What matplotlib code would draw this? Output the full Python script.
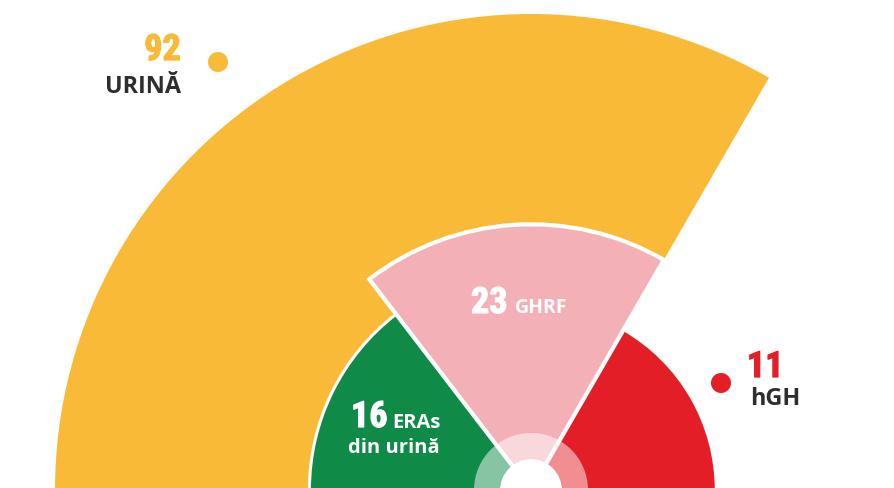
import numpy as np
import matplotlib
matplotlib.use("Agg")
import matplotlib.pyplot as plt
from matplotlib.patches import Wedge, Circle
from matplotlib import font_manager as fm
import matplotlib.patheffects as pe

# ---------------- data ----------------
labels = ["URINĂ", "GHRF", "ERAs\ndin urină", "hGH"]
values = [92, 23, 16, 11]
colors = ["#F9BA37", "#F3B1B7", "#108A47", "#E31E26"]

# ---------------- layout / style ----------------
W, H, DPI = 895, 488, 100
CX, CY = 531, 490                      # centre of the half-disc (pixels, y down)
SCALE = 55.4                           # radius ∝ sqrt(value)
R_MAX = 476                            # outer sector is capped to fit the page
ANGLES = [(60, 180), (60, 127.5), (127.5, 180), (0, 60)]
HOLE_R, RING_R = 31, 57
DARK = "#2E2E2E"


def radius(v):
    return min(SCALE * np.sqrt(v), R_MAX)


# pick a condensed bold face for the big numbers if one is installed
def pick_condensed():
    for f in fm.fontManager.ttflist:
        if f.name in ("Roboto Condensed", "Open Sans Condensed", "Liberation Sans Narrow"):
            return dict(family=f.name, fontstretch="normal")
    for f in fm.fontManager.ttflist:
        if f.name == "DejaVu Sans" and "ondensed" in f.fname:
            return dict(family="DejaVu Sans", fontstretch="condensed")
    return dict(family="DejaVu Sans", fontstretch="normal")


NUMF = pick_condensed()
LABF = dict(family="Open Sans")

fig = plt.figure(figsize=(W / DPI, H / DPI), dpi=DPI)
ax = fig.add_axes([0, 0, 1, 1])
ax.set_xlim(-CX, W - CX)
ax.set_ylim(CY - H, CY)
ax.set_aspect("auto")
ax.axis("off")

order = [0, 3, 2, 1]  # yellow, red, green, pink (pink on top)
edge_w = {0: 0, 3: 0, 2: 2.2, 1: 3.0}
for i in order:
    t1, t2 = ANGLES[i]
    w = Wedge((0, 0), radius(values[i]), t1, t2, facecolor=colors[i],
              edgecolor="white", linewidth=edge_w[i], joinstyle="miter",
              antialiased=True, zorder=2 + order.index(i))
    ax.add_patch(w)

# translucent inner ring and white hole
ax.add_patch(Wedge((0, 0), RING_R, 0, 180, width=RING_R - HOLE_R,
                   facecolor="white", alpha=0.5, edgecolor="none", zorder=10))
ax.add_patch(Circle((0, 0), HOLE_R, facecolor="white", edgecolor="none", zorder=11))


def P(x, y):
    return x - CX, CY - y


def heavy(c):
    return [pe.Stroke(linewidth=0.9, foreground=c), pe.Normal()]


# --- labels ---
num_kw = dict(fontsize=26, fontweight="bold", va="baseline", zorder=20, **NUMF)
lab_kw = dict(fontweight="bold", va="baseline", zorder=20, **LABF)

# URINĂ (outside, left)
ax.text(*P(181, 60), str(values[0]), color=colors[0], ha="right",
        path_effects=heavy(colors[0]), **num_kw)
ax.text(*P(181, 93), labels[0], color=DARK, ha="right", fontsize=16.8, **lab_kw)
ax.add_patch(Circle(P(218, 62), 10, facecolor=colors[0], edgecolor="none", zorder=20))

# hGH (outside, right)
ax.text(*P(747, 377), str(values[3]), color=colors[3], ha="left",
        path_effects=heavy(colors[3]), **num_kw)
ax.text(*P(750, 405), labels[3], color=DARK, ha="left", fontsize=16.8, **lab_kw)
ax.add_patch(Circle(P(721, 383), 10, facecolor=colors[3], edgecolor="none", zorder=20))

# GHRF (inside pink)
ax.text(*P(471, 313), str(values[1]), color="white", ha="left",
        path_effects=heavy("white"), **num_kw)
ax.text(*P(515, 313), labels[1], color="white", ha="left", fontsize=14, **lab_kw)

# ERAs din urină (inside green)
ax.text(*P(351, 427), str(values[2]), color="white", ha="left",
        path_effects=heavy("white"), **num_kw)
l1, l2 = labels[2].split("\n")
ax.text(*P(392, 428), l1, color="white", ha="left", fontsize=14.5, **lab_kw)
ax.text(*P(348, 453), l2, color="white", ha="left", fontsize=14.5, **lab_kw)

fig.savefig("out.png", dpi=DPI, facecolor="white")
